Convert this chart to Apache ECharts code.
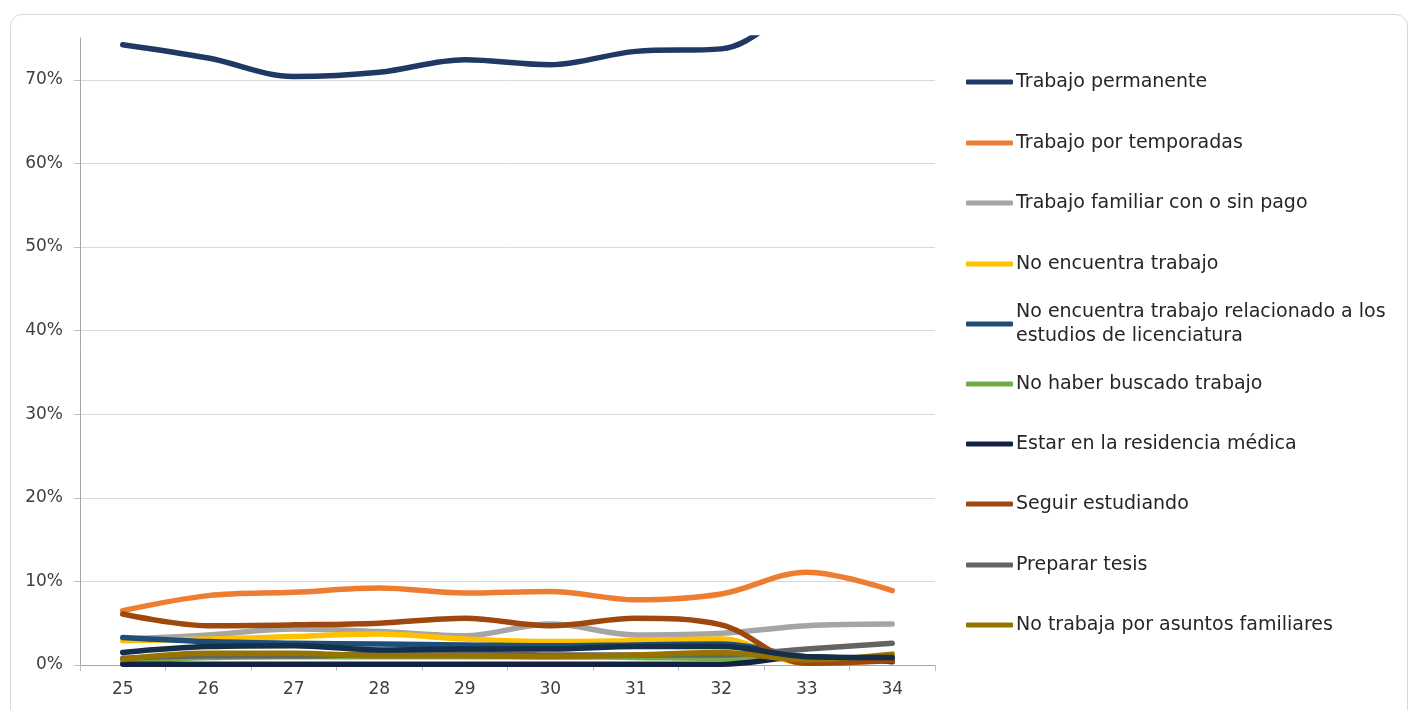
<!DOCTYPE html>
<html>
<head>
<meta charset="utf-8">
<script src="https://cdn.jsdelivr.net/npm/echarts@6/dist/echarts.min.js"></script>
<style>
  html, body { margin: 0; padding: 0; background: #ffffff; }
  #card { position: absolute; left: 10px; top: 14px; width: 1398px; height: 720px; border: 1px solid #d9d9d9; border-radius: 12px; box-sizing: border-box; }
  #chart { position: absolute; left: 0; top: 0; width: 1419px; height: 710px; }
</style>
</head>
<body>
<div id="card"></div>
<div id="chart"></div>
<script>
const categories = ['25', '26', '27', '28', '29', '30', '31', '32', '33', '34'];
const yTicks = [0, 10, 20, 30, 40, 50, 60, 70];

const seriesNames = [
  'Trabajo permanente',
  'Trabajo por temporadas',
  'Trabajo familiar con o sin pago',
  'No encuentra trabajo',
  'No encuentra trabajo relacionado a los estudios de licenciatura',
  'No haber buscado trabajo',
  'Estar en la residencia médica',
  'Seguir estudiando',
  'Preparar tesis',
  'No trabaja por asuntos familiares',
  'Otro'
];

const trabajoPermanente   = [74.2, 72.6, 70.4, 70.9, 72.4, 71.8, 73.4, 73.7, 79.0, 80.0];
const trabajoTemporadas   = [6.5, 8.3, 8.7, 9.2, 8.6, 8.8, 7.8, 8.5, 11.1, 8.9];
const trabajoFamiliar     = [3.1, 3.6, 4.3, 4.0, 3.5, 4.9, 3.6, 3.8, 4.7, 4.9];
const noEncuentra         = [2.9, 3.1, 3.4, 3.7, 3.1, 2.8, 2.9, 3.1, 0.2, 0.6];
const noRelacionado       = [3.3, 2.8, 2.6, 2.5, 2.4, 2.3, 2.4, 2.5, 1.0, 0.6];
const noBuscado           = [0.4, 0.9, 1.0, 1.0, 1.0, 1.0, 0.9, 0.8, 0.9, 0.8];
const residencia          = [0.1, 0.1, 0.1, 0.1, 0.1, 0.1, 0.1, 0.1, 1.0, 0.4];
const seguirEstudiando    = [6.1, 4.7, 4.8, 5.0, 5.6, 4.7, 5.6, 4.8, 0.2, 0.5];
const prepararTesis       = [0.8, 1.1, 1.1, 1.3, 1.4, 1.2, 1.2, 1.2, 1.9, 2.6];
const asuntosFamiliares   = [0.7, 1.4, 1.4, 1.1, 1.1, 1.0, 1.2, 1.5, 0.6, 1.3];
const otro                = [1.5, 2.2, 2.3, 1.8, 1.9, 1.9, 2.2, 2.2, 1.0, 0.9];

const seriesData = [trabajoPermanente, trabajoTemporadas, trabajoFamiliar, noEncuentra, noRelacionado,
  noBuscado, residencia, seguirEstudiando, prepararTesis, asuntosFamiliares, otro];
const colors = ['#203864', '#ED7D31', '#A5A5A5', '#FFC000', '#1F4E79', '#70AD47',
  '#132243', '#9E480E', '#636363', '#997300', '#132F49'];

const legendTops = [81, 142, 202, 263, 323, 383, 443, 503, 564, 624];
const FONT = 'DejaVu Sans';

const legends = legendTops.map((t, i) => {
  const two = i === 4;
  return {
    data: [seriesNames[i]],
    orient: 'vertical',
    left: 966,
    top: two ? t - 35 : t - 11,
    icon: 'roundRect',
    itemWidth: 47,
    itemHeight: 5,
    itemGap: 0,
    padding: 0,
    selectedMode: false,
    formatter: two ? 'No encuentra trabajo relacionado a los\nestudios de licenciatura' : '{name}',
    textStyle: {
      fontFamily: FONT, fontSize: 19, color: '#262626', lineHeight: 24,
      padding: two ? [24, 0, 0, -2] : [0, 0, 0, -2]
    }
  };
});

const chart = echarts.init(document.getElementById('chart'));
chart.setOption({
  animation: false,
  backgroundColor: 'transparent',
  color: colors,
  legend: legends,
  grid: { left: 80, right: 484, top: 38, bottom: 45, containLabel: false },
  xAxis: {
    type: 'category',
    data: categories,
    boundaryGap: true,
    axisLine: { lineStyle: { color: '#a6a6a6', width: 1 } },
    axisTick: { show: true, length: 6, lineStyle: { color: '#bfbfbf' } },
    axisLabel: { fontFamily: FONT, fontSize: 17, color: '#404040', margin: 16 },
    splitLine: { show: false }
  },
  yAxis: {
    type: 'value',
    min: 0,
    max: 75,
    interval: 10,
    axisLine: { show: true, lineStyle: { color: '#a6a6a6', width: 1 } },
    axisTick: { show: true, length: 6, lineStyle: { color: '#bfbfbf' } },
    axisLabel: {
      fontFamily: FONT, fontSize: 17, color: '#404040', margin: 17,
      showMaxLabel: false,
      formatter: function (v) { return yTicks.indexOf(v) >= 0 ? v + '%' : ''; }
    },
    splitLine: { show: true, showMaxLine: false, lineStyle: { color: '#d9d9d9', width: 1 } }
  },
  series: seriesData.map((d, i) => ({
    name: seriesNames[i],
    type: 'line',
    data: d,
    smooth: 0.35,
    symbol: 'none',
    clip: true,
    lineStyle: { width: 5.5, color: colors[i], cap: 'round', join: 'round' },
    itemStyle: { color: colors[i] },
    z: 2 + i
  }))
});
</script>
</body>
</html>
